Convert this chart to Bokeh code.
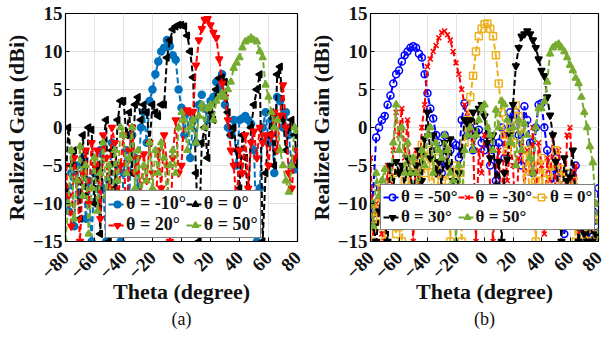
import math
from bokeh.plotting import figure
from bokeh.layouts import row
from bokeh.models import Legend, LegendItem, Title, FixedTicker, Range1d
from bokeh.embed import file_html
from bokeh.resources import INLINE

theta = list(range(-80, 81, 2))
x_ticks = [-80, -60, -40, -20, 0, 20, 40, 60, 80]
y_ticks = [-15, -10, -5, 0, 5, 10, 15]

# ---- panel (a) ----
a_m10 = [-8, -11, -6, -13, -5, -9, -4, -12, -7, -15, -6, -10, -3, -8, -15,
         -7, -2, -11, -5, -15, -6, -3, -9, -1, -4, -8, 0, 2, -2, 3.5,
         5, 7, 8.7, 10, 10.5, 11.5, 10.7, 9.5, 8.9, 5,
         2.6, -1, 2, -4, 1, -2, 3, 4.3, 2.5, 1, 3.5, 4, 6, 5, 7,
         3, 0, -1, 1, -5, 1, 1.2, 1.5, 1, 0.5, -3, -15, -8, 0, 2,
         -2, 1, -6, 4, 3.5, 0, 2, -1, -5, -5.5, -3]
a_0 = [-8, 0, -5, -3, -7, -12, -1, -9, 0, -0.3, -10, -5, -14, -2, 1,
       -15, -3, -8, 1, 3.5, 3.5, -1, 2, -6, 3, 4, 1, 3, 2, -2,
       3, 2, 1.5, 3, 3, 9.2, 11.5, 12.9, 13.3, 13.5,
       13.5, 13.3, 12.1, 10, 6.6, -6, -15, -2, 0, -4, 2, 1, 5, 6.5, 6.6,
       6, 2, -1, 0, -3, -8, -1, -4, -10, 0, 3, 5, 7, -15, -6,
       -1, 2, -5, 7, 8, 1, -3, 0, 1, -1, -5]
a_20 = [-5, -9, -13, -4, -7, -15, -6, -3, -10, -2, -5, -3, -12, -1, -4,
        -8, 0, -2, -11, -5, -1, -14, -3, 0, -6, -4, -9, -3.5, -7, -2,
        -6, -12, -3, -8, -1, -5, -15, -4, 1, -6,
        -5, 2, 2.3, 2, 2.1, 8.2, 11.5, 13, 14.2, 14.3, 13.5, 12.5, 11.8, 9, 5.8,
        4, 1, -3, -5, -10, -3, -6, -1, -8, -2, -0.5, -4, 0, -2, -1,
        -5, -1, 2, -3, 1.6, 5.6, 0, -6, -8, -4, -3]
a_50 = [-15, -10, -3, -12, -7, -2.5, -9, -5, -14, -8, -4, -11, -6, -2, -9,
        -5, -13, -3, -7, 0, -1, -6, -4, 0, -8, -3, -10, -5, -7, -2,
        -8, -3, -6, -2, -4, -9, -5, -3, -6, 0,
        2, 1, -3, 0, 1, -2, 1.5, 3, 0, 2.5, 3, 1, 3.5, 4, 4.5,
        4, 5, 6, 7.8, 8.5, 9.2, 10.5, 11.3, 11.5, 11.8, 11.5, 11.3, 10, 9.2, 5.6,
        4, 2, 0, 1, -3, -5, -7, -8.5, -5, 0, -0.5]

# ---- panel (b) ----
b_m50 = [-12.7, -8, -1.3, 0, 1, 1.5, 3, 4.2, 5.8, 7, 7.5, 8.7, 9.5, 10, 10.5,
         10.7, 10.5, 9.7, 9.2, 7, 4.5, 2.5, 1.2, -1, -2, -6, -1, -5, -3, -2,
         -2.3, -4, 1, 3.2, -1, 0, -3, -0.5, -0.3, -2,
         -3, -1, -5, -2, -7, -2, 0, -4, -1, 2, 1, 2, -1, -5, 2.8,
         1, -2, -6, 0, 3, 3.2, 0, -3, -6, -8, -4, -6, -10, -14, -8,
         -6, -12, -5, -15, -9, -13, -15, -14, -11, -13, -8]
b_m30 = [-4, -15, -10, -8, -14, -15, -5, -12, -3, 2, -1, 2.5, -4, 1, -6,
         -15, -3, -8, 0, 3, 8, 9, 10, 10.8, 11.8, 12.5, 12.7, 12.2, 11.5, 10,
         8.5, 7, 5, 3, 2, 0.5, -2, -15, -3, -6,
         -1, 0, -8, -15, -5, -3, -11, -1, -7, -2, -5, -13, -4, -2, -8,
         -3, -6, 0, -10, -2, -5, -14, -4, -7, -1, -9, -3, -6, -12, -1,
         0, -7, -5, -15, -10, -13, -15, -8, -12, -15, -15]
b_0 = [-15, -12, -10, -13, -8, -15, -9, -11, -6, -14, -8, -15, -7, -10, -5,
       -12, -8, -4, -2.3, -6, -3, -9, -5, -12, -4, -7, -10, -3, -15, -5,
       -11, -6, -15, -2, 1, 4, 6.8, 10, 12, 13,
       13.6, 13.7, 13, 12, 9.5, 5.8, 2, -1, -3, 0, -2, 2.9, 1.5, 0, -8,
       -3, -10, -5, -15, -7, -4, -12, -6, -9, -5, -3, -8, -5.5, -12, -6,
       -9, -7, -15, -11, -13, -15, -10, -14, -12, -15, -15]
b_30 = [-10, -13, -15, -11, -9, -12, -15, -5, -8, -4.5, -6, -5, -8, -4, -6,
        -9, -5, -3, -7, -1.5, 2, -4, -1, -6, -4.5, -8, -2, -5, -1.5, -7,
        -10, -6, -3, 1, 0.5, 1, 2, -1, 2.5, 3,
        1.5, -2, -4, -1, -8, -4.5, -15, -6, -4.2, -1, 3, 8.1, 10.5, 12, 12.3,
        12.7, 12.3, 11.5, 10.5, 9, 7.5, 6.8, 4, 1.6, -1, -4.5, -8, -15, -4, -7,
        -6.5, -3, -10, -15, -13, -14, -15, -12, -15, -14, -15]
b_50 = [-10, -13, -6, -9, -7, -5.5, -11, -8, -2, 3, -3, 0, -6, -2, -6,
        -4, -6, -8, -3, -5, -1, 0, -6, -2, -3, -4, -1, -3, -6, -7,
        -15, -5, -10, -3, -1, 0, -3, -1, 1, 2.5,
        3, 0, -1, -3, 2.3, 0, 3.5, 3, 1, -2, 0, -5, 1, -3, 0.5,
        -1, -4, -6, 0, 2.5, 2.5, 3.4, 6, 9.7, 10.5, 10.8, 11, 10.5, 10, 9.2,
        8.2, 7.5, 6.5, 5.8, 4, 2, 0, -2.5, -4.6, -10, -15]

labels_a = ["θ = -10°", "θ = 0°", "θ = 20°", "θ = 50°"]
labels_b = ["θ = -50°", "θ = -30°", "θ = 0°", "θ = 30°", "θ = 50°"]

SERIF = "Liberation Serif"


def panel(series, caption, width, height, borders, legend_loc, ncols, legend_font):
    p = figure(width=width, height=height, output_backend="svg", toolbar_location=None,
               x_range=Range1d(-80, 80), y_range=Range1d(-15, 15),
               min_border_left=borders[0], min_border_right=borders[1],
               min_border_top=borders[2], min_border_bottom=borders[3])
    p.outline_line_color = "black"
    p.outline_line_width = 1.2
    p.outline_line_alpha = 1
    p.background_fill_color = "white"
    p.border_fill_color = "white"
    p.grid.grid_line_color = "#e2e2e2"
    p.grid.grid_line_width = 1
    p.xaxis.ticker = FixedTicker(ticks=x_ticks)
    p.yaxis.ticker = FixedTicker(ticks=y_ticks)
    p.xaxis.major_label_orientation = math.pi / 4
    p.xaxis.axis_label = "Theta (degree)"
    p.yaxis.axis_label = "Realized Gain (dBi)"
    for ax in (p.xaxis[0], p.yaxis[0]):
        ax.axis_label_text_font = SERIF
        ax.axis_label_text_font_style = "bold"
        ax.axis_label_text_font_size = "22px"
        ax.axis_label_text_color = "#111111"
        ax.major_label_text_font = SERIF
        ax.major_label_text_font_style = "bold"
        ax.major_label_text_font_size = "19px"
        ax.major_label_text_color = "#111111"
        ax.major_tick_in = 4
        ax.major_tick_out = 0
        ax.minor_tick_line_color = None
        ax.axis_line_color = "black"
        ax.major_tick_line_color = "black"
        ax.axis_label_standoff = 1
        ax.major_label_standoff = 3
    p.xaxis.major_label_standoff = 13
    p.xaxis.axis_label_standoff = -9

    items = []
    for (vals, label, color, marker, fill, angle) in series:
        lr = p.line(theta, vals, line_color=color, line_width=2, line_dash="6 3")
        sr = p.scatter(theta, vals, marker=marker, size=7, line_color=color,
                       fill_color=fill, line_width=1.5, angle=angle)
        items.append(LegendItem(label=label, renderers=[lr, sr]))

    leg = Legend(items=items, location=legend_loc, orientation="horizontal", ncols=ncols,
                 label_text_font=SERIF, label_text_font_style="bold",
                 label_text_font_size=legend_font, label_text_color="#111111",
                 glyph_width=18, glyph_height=16, label_height=19, label_standoff=0,
                 spacing=0, padding=2, margin=0,
                 border_line_color="black", border_line_width=1.2,
                 background_fill_color="white", background_fill_alpha=1)
    p.add_layout(leg)
    p.add_layout(Title(text=caption, align="center", text_font=SERIF,
                       text_font_size="18px", text_font_style="normal",
                       text_color="#111111", standoff=0), "below")
    return p


series_a = [
    (a_m10, labels_a[0], "#0072BD", "circle", "#0072BD", 0),
    (a_0, labels_a[1], "black", "triangle", "black", math.pi / 2),
    (a_20, labels_a[2], "#FF0000", "inverted_triangle", "#FF0000", 0),
    (a_50, labels_a[3], "#77AC30", "triangle", "#77AC30", 0),
]
series_b = [
    (b_m50, labels_b[0], "#0000FF", "circle", None, 0),
    (b_m30, labels_b[1], "#FF0000", "x", None, 0),
    (b_0, labels_b[2], "#EDB120", "square", None, 0),
    (b_30, labels_b[3], "black", "inverted_triangle", "black", 0),
    (b_50, labels_b[4], "#77AC30", "triangle", "#77AC30", 0),
]

pa = panel(series_a, "(a)", 305, 339, (58, 8, 13, 98), (40, 3), 2, "18px")
pb = panel(series_b, "(b)", 306, 339, (58, 13, 10, 98), (10, 11), 3, "17px")

layout = row(pa, pb)
open("out.html", "w").write(file_html(layout, INLINE))
